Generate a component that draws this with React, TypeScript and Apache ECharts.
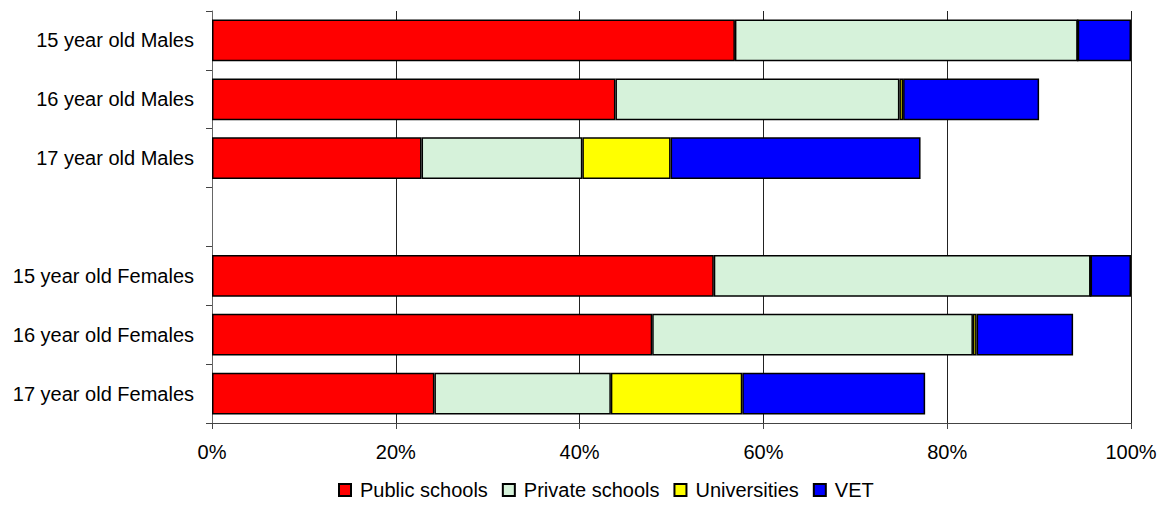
import React, { useEffect, useRef } from "react";
import * as echarts from "echarts";

const categories = [
  "15 year old Males",
  "16 year old Males",
  "17 year old Males",
  "",
  "15 year old Females",
  "16 year old Females",
  "17 year old Females",
];
const publicSchools = [56.9, 43.9, 22.8, null, 54.6, 47.9, 24.2];
const privateSchools = [37.3, 30.9, 17.5, null, 41.0, 34.9, 19.2];
const universities = [0, 0.4, 9.6, null, 0, 0.4, 14.3];
const vet = [5.8, 14.8, 27.2, null, 4.4, 10.5, 19.9];

const seriesNames = ["Public schools", "Private schools", "Universities", "VET"];
const seriesColors = ["#FF0000", "#D6F2DA", "#FFFF00", "#0000FF"];
const seriesData = [publicSchools, privateSchools, universities, vet];

const FONT = "Liberation Sans, Arial, sans-serif";

export default function App() {
  const ref = useRef<HTMLDivElement>(null);
  useEffect(() => {
    if (!ref.current) return;
    const chart = echarts.init(ref.current, null, { renderer: "svg" });
    chart.setOption({
      animation: false,
      backgroundColor: "#ffffff",
      textStyle: { fontFamily: FONT },
      grid: { left: 212, right: 34, top: 11, bottom: 82, containLabel: false },
      legend: {
        bottom: 0,
        left: 333,
        itemWidth: 12,
        itemHeight: 12,
        itemGap: 14,
        icon: "rect",
        textStyle: { fontFamily: FONT, fontSize: 20, color: "#000", padding: [0, 0, 0, 4] },
        data: seriesNames,
      },
      xAxis: {
        type: "value",
        min: 0,
        max: 100,
        interval: 20,
        axisLine: { show: true, lineStyle: { color: "#444", width: 1 } },
        axisTick: { show: true, length: 6, lineStyle: { color: "#444" } },
        splitLine: { show: true, lineStyle: { color: "#222", width: 1 } },
        axisLabel: {
          formatter: "{value}%",
          fontFamily: FONT,
          fontSize: 20,
          color: "#000",
          margin: 19,
        },
      },
      yAxis: {
        type: "category",
        inverse: true,
        data: categories,
        axisLine: { show: true, lineStyle: { color: "#666", width: 1 } },
        axisTick: { show: true, length: 6, lineStyle: { color: "#444" } },
        axisLabel: {
          fontFamily: FONT,
          fontSize: 20,
          color: "#000",
          margin: 18,
        },
      },
      series: seriesData.map((d, i) => ({
        name: seriesNames[i],
        type: "bar",
        stack: "total",
        data: d,
        barCategoryGap: "29%",
        itemStyle: { color: seriesColors[i], borderColor: "#000", borderWidth: 1.5 },
      })),
    });
    return () => chart.dispose();
  }, []);
  return (
    <div
      ref={ref}
      style={{ position: "absolute", left: 0, top: 0, width: 1165, height: 505 }}
    />
  );
}
